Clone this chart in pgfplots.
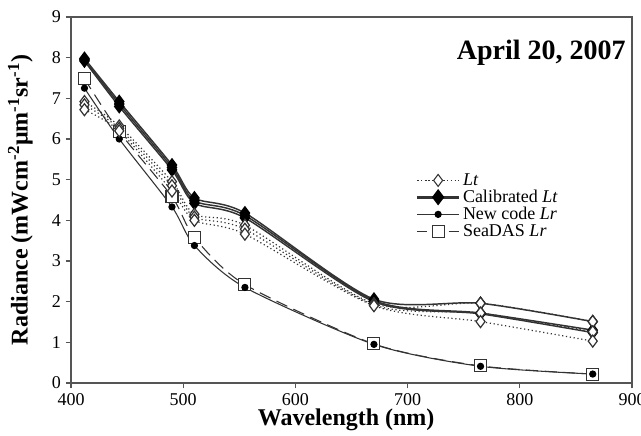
\documentclass[border=0pt]{standalone}
\usepackage{fontspec}
\setmainfont{Liberation Serif}
\usepackage{pgfplots}
\pgfplotsset{compat=1.18}

\definecolor{ln}{HTML}{333333}
\definecolor{ax}{HTML}{555555}

\pgfplotstableread{
wl   c1   c2   c3   l1   l2   l3
412  7.98 7.95 7.92 6.92 6.84 6.72
443  6.92 6.86 6.80 6.32 6.26 6.20
490  5.36 5.30 5.24 4.95 4.85 4.72
510  4.55 4.48 4.42 4.15 4.08 4.00
555  4.18 4.12 4.06 3.88 3.78 3.66
670  2.06 2.03 2.00 1.95 1.92 1.90
765  1.96 1.72 1.70 1.96 1.72 1.51
865  1.51 1.30 1.24 1.51 1.26 1.03
}\lt

\pgfplotstableread{
wl   sd   nc
412  7.48 7.25
443  6.18 6.00
490  4.58 4.33
510  3.58 3.38
555  2.42 2.35
670  0.96 0.95
765  0.42 0.41
865  0.22 0.22
}\lr

\begin{document}
\begin{tikzpicture}
\begin{axis}[
  name=ax,
  scale only axis,
  width=420.75pt, height=274.5pt,
  xmin=400, xmax=900, ymin=0, ymax=9,
  xtick={400,500,...,900}, ytick={0,1,...,9},
  tick pos=left, tick align=outside,
  major tick length=4pt,
  axis line style={ax, line width=0.9pt},
  tick style={ax, line width=0.8pt},
  /pgf/number format/assume math mode=true,
  ticklabel style={font=\fontsize{13.5}{16}\selectfont},
  xlabel={\bfseries Wavelength (nm)},
  ylabel={\bfseries Radiance (mWcm\textsuperscript{-2}μm\textsuperscript{-1}sr\textsuperscript{-1})},
  label style={font=\fontsize{18}{21}\selectfont},
  xlabel style={yshift=4pt, xshift=-4pt},
  ylabel style={at={(rel axis cs:0,0.5)}, anchor=center, yshift=38pt},
  legend style={draw=none, fill=none, at={(rel axis cs:0.612,0.584)}, anchor=north west,
    font=\fontsize{13.5}{15}\selectfont, row sep=-2pt, inner sep=1pt},
  legend cell align=left,
  legend image code/.code={\draw[mark repeat=2,mark phase=2,#1] plot coordinates {(0cm,0cm) (0.55cm,0cm) (1.1cm,0cm)};},
  every axis plot/.append style={smooth, tension=0.45},
]
\addlegendimage{ln, dotted, line width=0.8pt, mark=diamond*, mark size=4.5pt, mark options={solid, fill=white, draw=ln}}
\addlegendentry{\textit{Lt}}
\addlegendimage{ln, line width=2pt, mark=diamond*, mark size=4.5pt, mark options={solid, fill=black, draw=black}}
\addlegendentry{Calibrated \textit{Lt}}
\addlegendimage{ln, line width=0.8pt, mark=*, mark size=2.3pt, mark options={fill=black, draw=black}}
\addlegendentry{New code \textit{Lr}}
\addlegendimage{ln, dash pattern=on 7.5pt off 16pt, line width=0.8pt, mark=square*, mark size=4.5pt, mark options={solid, fill=white, draw=ln}}
\addlegendentry{SeaDAS \textit{Lr}}

% SeaDAS Lr
\addplot[forget plot, ln, line width=0.8pt, dash pattern=on 9pt off 5pt, mark=square*, mark size=4.5pt, mark options={solid, fill=white, draw=ln}] table[x=wl, y=sd] {\lr};
% New code Lr
\addplot[forget plot, ln, line width=0.8pt, mark=*, mark size=2.3pt, mark options={fill=black, draw=black}] table[x=wl, y=nc] {\lr};
% Calibrated Lt
\foreach \c in {c1,c2,c3}{
  \addplot[forget plot, ln, line width=1.1pt, mark=diamond*, mark size=4.5pt, mark options={fill=black, draw=black}] table[x=wl, y=\c] {\lt};
}
% Lt
\foreach \c in {l1,l2,l3}{
  \addplot[forget plot, ln, dotted, line width=0.9pt, mark=diamond*, mark size=4.5pt, mark options={solid, fill=white, draw=ln}] table[x=wl, y=\c] {\lt};
}
\node[anchor=north east, font=\fontsize{21}{24}\selectfont\bfseries] at (rel axis cs:0.997,0.95) {April 20, 2007};
\end{axis}
\pgfresetboundingbox
\path (ax.south west) ++(-53.25pt,-39.75pt) rectangle (ax.north east) ++(6.75pt,12.75pt);
\end{tikzpicture}
\end{document}
